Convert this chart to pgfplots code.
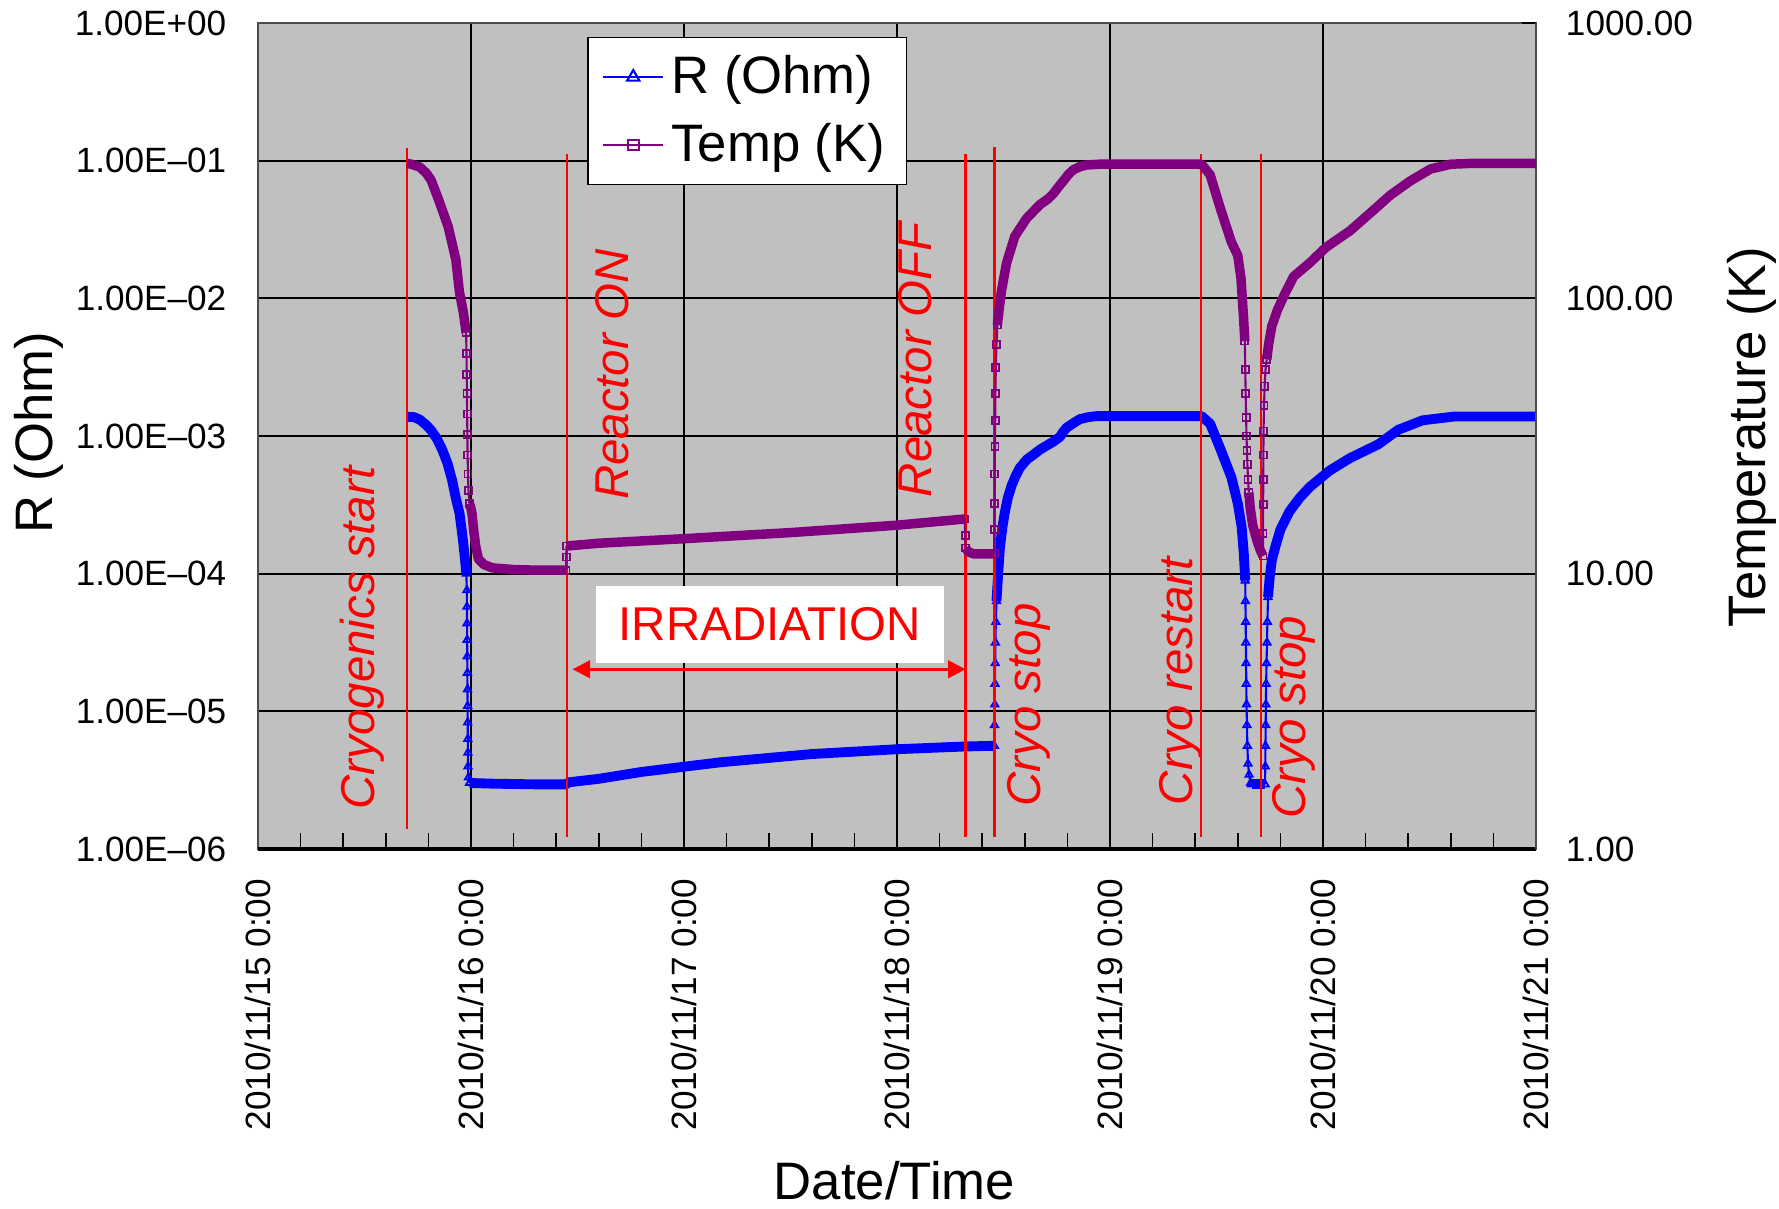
\documentclass[border=0pt]{standalone}
\usepackage{fontspec}
\setmainfont{Liberation Sans}
\usepackage{pgfplots}
\pgfplotsset{compat=1.18}
\usetikzlibrary{arrows.meta}
\definecolor{bg}{RGB}{192,192,192}
\definecolor{pur}{RGB}{128,0,128}
\definecolor{bblue}{RGB}{0,0,255}
\tikzset{ann/.style={red, rotate=90, anchor=center, font=\itshape\fontsize{13.5}{16}\selectfont}}
\begin{document}
\begin{tikzpicture}
\pgfplotsset{
  base/.style={at={(0,0)}, anchor=south west, width=12.78cm, height=8.26cm, scale only axis,
    xmin=0, xmax=6, clip=false},
  thickB/.style={bblue, line width=2.8pt, line join=round, no markers, forget plot},
  thinB/.style={bblue, line width=0.6pt, mark=triangle, mark size=1.2pt, mark options={solid, line width=0.5pt}, forget plot},
  thickP/.style={pur, line width=2.7pt, line join=round, no markers, forget plot},
  thinP/.style={pur, line width=0.6pt, mark=square, mark size=1.0pt, mark options={solid, line width=0.5pt}, forget plot},
  redline/.style={red, line width=0.7pt, forget plot},
}
\begin{axis}[base,
  ymode=log, ymin=1e-6, ymax=1,
  axis background/.style={fill=bg},
  xtick={0,1,2,3,4,5,6},
  xticklabels={2010/11/15 0:00,2010/11/16 0:00,2010/11/17 0:00,2010/11/18 0:00,2010/11/19 0:00,2010/11/20 0:00,2010/11/21 0:00},
  minor x tick num=4,
  ytick={1e-6,1e-5,1e-4,1e-3,1e-2,1e-1,1},
  yticklabels={1.00E--06,1.00E--05,1.00E--04,1.00E--03,1.00E--02,1.00E--01,1.00E+00},
  yminorticks=false,
  xmajorgrids, ymajorgrids,
  major grid style={black, line width=0.5pt},
  tick align=inside,
  xtick pos=left, ytick pos=left,
  major tick length=4pt, minor tick length=4.5pt,
  tick style={black, line width=0.5pt},
  axis line style={black!70, line width=0.7pt},
  xticklabel style={rotate=90, anchor=east, font=\fontsize{10}{12}\selectfont},
  yticklabel style={font=\fontsize{10}{12}\selectfont},
  xticklabel shift=5pt,
  yticklabel shift=5.5pt,
  xlabel={Date/Time},
  xlabel style={at={(axis description cs:0.498,-0.401)}, anchor=center, inner sep=0pt, font=\fontsize{15}{18}\selectfont},
  ylabel={R (Ohm)},
  ylabel style={at={(axis description cs:-0.1716,0.504)}, anchor=center, font=\fontsize{15}{18}\selectfont},
]
% R (Ohm)
\addplot[thickB] coordinates {
(0.700,1.380e-3) (0.730,1.374e-3) (0.759,1.318e-3) (0.790,1.202e-3) (0.8125,1.102e-3)
(0.840,9.55e-4) (0.866,7.89e-4) (0.890,6.31e-4) (0.911,4.786e-4) (0.930,3.467e-4)
(0.946,2.754e-4) (0.956,2.089e-4) (0.964,1.660e-4) (0.972,1.259e-4) (0.978,1.0e-4)};
\addplot[thinB] coordinates {
(0.978,1.0e-4) (0.9805,7.586e-5) (0.981,5.754e-5) (0.9815,4.365e-5) (0.982,3.311e-5)
(0.9825,2.512e-5) (0.983,1.905e-5) (0.9835,1.445e-5) (0.984,1.096e-5) (0.9845,8.318e-6)
(0.985,6.310e-6) (0.9855,5.012e-6) (0.986,3.981e-6) (0.988,3.311e-6) (0.993,3.020e-6)};
\addplot[thickB] coordinates {
(0.993,3.020e-6) (1.10,2.985e-6) (1.30,2.951e-6) (1.445,2.951e-6) (1.46,3.055e-6)
(1.60,3.236e-6) (1.80,3.631e-6) (2.17,4.266e-6) (2.60,4.898e-6) (3.00,5.309e-6)
(3.32,5.559e-6) (3.457,5.623e-6)};
\addplot[thinB] coordinates {
(3.457,5.623e-6) (3.458,7.943e-6) (3.459,1.122e-5) (3.460,1.585e-5) (3.461,2.239e-5)
(3.462,3.162e-5) (3.464,4.467e-5) (3.467,6.310e-5)};
\addplot[thickB] coordinates {
(3.467,6.310e-5) (3.475,1.0e-4) (3.483,1.528e-4) (3.495,2.188e-4) (3.506,2.780e-4)
(3.520,3.548e-4) (3.538,4.365e-4) (3.557,5.129e-4) (3.577,5.888e-4) (3.610,6.761e-4)
(3.640,7.311e-4) (3.670,7.943e-4) (3.702,8.511e-4) (3.735,9.120e-4) (3.765,9.863e-4)
(3.780,1.072e-3) (3.796,1.148e-3) (3.830,1.245e-3) (3.859,1.327e-3) (3.900,1.374e-3)
(3.937,1.396e-3) (4.000,1.396e-3) (4.430,1.396e-3) (4.470,1.230e-3) (4.520,7.943e-4)
(4.570,5.012e-4) (4.600,3.236e-4) (4.618,2.188e-4) (4.628,1.413e-4) (4.635,8.913e-5)};
\addplot[thinB] coordinates {
(4.635,8.913e-5) (4.636,6.310e-5) (4.637,4.467e-5) (4.638,3.162e-5) (4.639,2.239e-5)
(4.640,1.585e-5) (4.641,1.122e-5) (4.643,7.943e-6) (4.645,5.623e-6) (4.648,4.169e-6)
(4.653,3.467e-6) (4.660,3.020e-6) (4.665,2.951e-6)};
\addplot[thickB] coordinates {(4.665,2.951e-6) (4.728,2.951e-6)};
\addplot[thinB] coordinates {
(4.728,2.951e-6) (4.729,3.981e-6) (4.730,5.623e-6) (4.731,7.943e-6) (4.732,1.122e-5)
(4.733,1.585e-5) (4.735,2.239e-5) (4.737,3.162e-5) (4.739,4.467e-5) (4.742,6.761e-5)};
\addplot[thickB] coordinates {
(4.742,6.761e-5) (4.750,9.550e-5) (4.760,1.259e-4) (4.777,1.585e-4) (4.800,2.089e-4)
(4.843,2.838e-4) (4.890,3.548e-4) (4.938,4.266e-4) (5.032,5.623e-4) (5.127,6.918e-4)
(5.260,8.710e-4) (5.353,1.109e-3) (5.467,1.300e-3) (5.618,1.387e-3) (6.000,1.387e-3)};
\draw[black, line width=1.1pt] (rel axis cs:0,0) -- (rel axis cs:1,0);
\end{axis}

\begin{axis}[base,
  ymode=log, ymin=1, ymax=1000,
  axis x line=none, axis y line*=right,
  ytick={1,10,100,1000}, yticklabels={1.00,10.00,100.00,1000.00},
  yminorticks=false,
  tick align=inside, major tick length=4pt,
  tick style={black, line width=0.5pt},
  axis line style={black!70, line width=0.7pt},
  yticklabel style={anchor=west, font=\fontsize{10}{12}\selectfont},
  yticklabel shift=5pt,
  ylabel={Temperature (K)},
  every axis y label/.style={at={(axis description cs:1.169,0.499)}, anchor=center, rotate=90, font=\fontsize{15}{18}\selectfont},
  legend style={at={(axis description cs:0.2578,0.983)}, anchor=north west, draw=black, fill=white,
    font=\fontsize{15}{18}\selectfont, inner xsep=4pt, inner ysep=3pt, row sep=3pt, cells={anchor=west}},
]
% red event lines
\addplot[redline] coordinates {(0.700,1.186) (0.700,352)};
\addplot[redline] coordinates {(1.450,1.110) (1.450,334)};
\addplot[redline] coordinates {(3.322,1.110) (3.322,334)};
\addplot[redline] coordinates {(3.457,1.110) (3.457,354)};
\addplot[redline] coordinates {(4.426,1.110) (4.426,334)};
\addplot[redline] coordinates {(4.708,1.110) (4.708,334)};
% Temp (K)
\addplot[thickP] coordinates {
(0.700,309) (0.720,307) (0.759,300) (0.790,285) (0.8125,269) (0.848,228) (0.893,182)
(0.929,138) (0.946,105) (0.964,89) (0.977,75)};
\addplot[thinP] coordinates {
(0.977,75) (0.979,63) (0.980,53) (0.981,45) (0.982,38) (0.983,32) (0.984,27)
(0.986,23) (0.988,20) (0.992,18)};
\addplot[thickP] coordinates {
(0.992,18) (0.998,17.5) (1.005,16.5) (1.012,14.5) (1.022,12.6) (1.035,11.3) (1.060,10.8)
(1.100,10.5) (1.200,10.35) (1.300,10.3) (1.446,10.3)};
\addplot[thinP] coordinates {(1.446,10.3) (1.447,11.5) (1.448,12.6)};
\addplot[thickP] coordinates {
(1.448,12.6) (1.600,12.9) (2.000,13.4) (2.500,14.1) (3.000,15.0) (3.318,15.8)};
\addplot[thinP] coordinates {(3.318,15.8) (3.320,13.8) (3.322,12.4)};
\addplot[thickP] coordinates {(3.322,12.4) (3.335,12.0) (3.360,11.8) (3.456,11.8)};
\addplot[thinP] coordinates {
(3.456,11.8) (3.457,14.5) (3.458,18) (3.459,23) (3.460,29) (3.461,36) (3.462,45)
(3.464,56) (3.467,68) (3.471,80)};
\addplot[thickP] coordinates {
(3.471,80) (3.480,92) (3.491,107) (3.514,134) (3.553,168) (3.608,195) (3.671,219)
(3.710,230) (3.734,240) (3.760,255) (3.781,267) (3.805,282) (3.828,293) (3.860,301)
(3.890,305) (3.950,307) (4.430,307) (4.470,281) (4.520,210) (4.570,160) (4.600,143)
(4.615,118) (4.627,85) (4.633,70)};
\addplot[thinP] coordinates {
(4.633,70) (4.635,55) (4.637,45) (4.639,37) (4.641,31.6) (4.643,28) (4.645,25)
(4.648,22) (4.652,19.7)};
\addplot[thickP] coordinates {
(4.652,19.7) (4.658,17.4) (4.670,15.0) (4.690,13.2) (4.705,12.2) (4.718,11.6)};
\addplot[thinP] coordinates {
(4.718,11.6) (4.7185,14) (4.719,17.8) (4.7195,22) (4.720,27) (4.721,33) (4.723,40.7)
(4.726,48) (4.730,55) (4.736,60)};
\addplot[thickP] coordinates {
(4.736,60) (4.745,68.4) (4.760,79.4) (4.786,90.7) (4.820,103.5) (4.862,120) (4.940,135)
(5.013,153) (5.127,176) (5.240,210) (5.316,237) (5.410,267) (5.505,295) (5.600,307)
(5.690,309) (6.000,309)};
% annotations
\node[ann] at (axis cs:0.491,5.84) {Cryogenics start};
\node[ann] at (axis cs:1.664,52.8) {Reactor ON};
\node[ann] at (axis cs:3.083,59.7) {Reactor OFF};
\node[ann] at (axis cs:3.621,3.34) {Cryo stop};
\node[ann] at (axis cs:4.331,4.07) {Cryo restart};
\node[ann] at (axis cs:4.864,3.006) {Cryo stop};
\draw[red, line width=0.8pt, {Triangle[length=5pt,width=5pt]}-{Triangle[length=5pt,width=5pt]}]
  (axis cs:1.477,4.496) -- (axis cs:3.322,4.496);
\node[fill=white, text=red, minimum width=3.48cm, minimum height=0.77cm, inner sep=0pt,
  font=\fontsize{13.5}{16}\selectfont] at (axis cs:2.403,6.546) {IRRADIATION};
% legend
\addlegendimage{bblue, line width=0.6pt, mark=triangle, mark size=2pt, mark options={solid}}
\addlegendentry{R (Ohm)}
\addlegendimage{pur, line width=0.6pt, mark=square, mark size=1.5pt, mark options={solid}}
\addlegendentry{Temp (K)}
\end{axis}
\pgfresetboundingbox
\path (-2.58,-3.59) rectangle (15.21,8.49);
\end{tikzpicture}
\end{document}
